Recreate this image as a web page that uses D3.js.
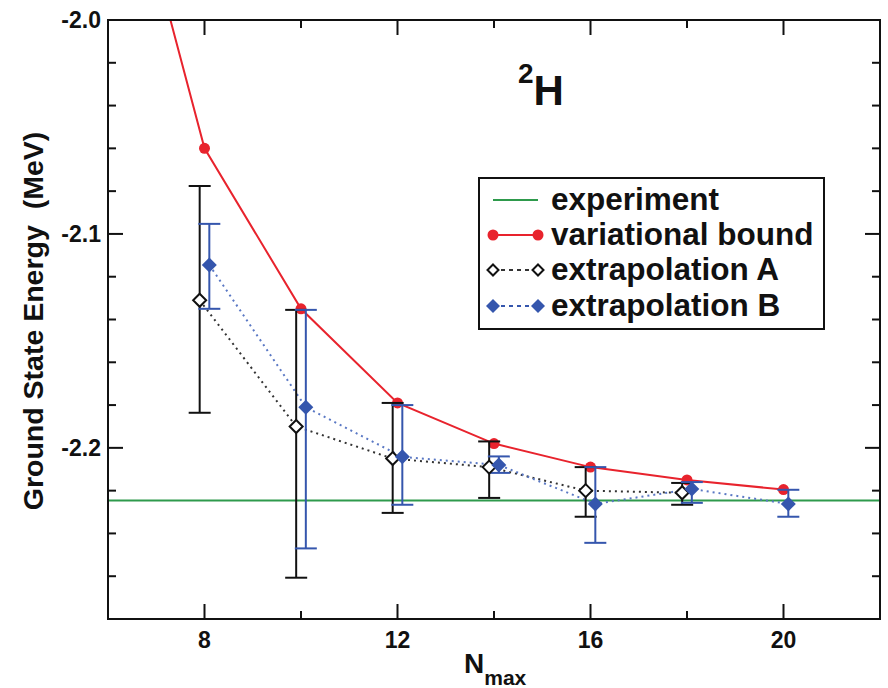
<!DOCTYPE html>
<html>
<head>
<meta charset="utf-8">
<script src="https://cdn.jsdelivr.net/npm/d3@7"></script>
<style>
  body { margin: 0; background: #fff; }
  text { font-family: "Liberation Sans", Arial, sans-serif; font-weight: bold; fill: #111; }
</style>
</head>
<body>
<div id="chart"></div>
<script>
// ---------------- data ----------------
var nmax_var = [6, 8, 10, 12, 14, 16, 18, 20];
var variational = [-1.89, -2.060, -2.135, -2.179, -2.198, -2.209, -2.215, -2.2195];

var nmax_A = [8, 10, 12, 14, 16, 18];
var extrapA = [-2.131, -2.190, -2.205, -2.209, -2.220, -2.221];
var extrapA_hi = [-2.0776, -2.1355, -2.179, -2.197, -2.209, -2.2164];
var extrapA_lo = [-2.1836, -2.2607, -2.2304, -2.2234, -2.2322, -2.2266];

var nmax_B = [8, 10, 12, 14, 16, 18, 20];
var extrapB = [-2.1145, -2.181, -2.2042, -2.208, -2.2262, -2.2192, -2.2262];
var extrapB_hi = [-2.0953, -2.1355, -2.180, -2.204, -2.209, -2.216, -2.2196];
var extrapB_lo = [-2.135, -2.247, -2.2266, -2.2117, -2.2444, -2.2257, -2.2322];

var experiment = -2.2246;

var x_ticks_major = [8, 12, 16, 20];
var x_ticks_minor = [10, 14, 18];
var y_ticks_major = [-2.0, -2.1, -2.2];
var y_ticks_minor = [-2.02, -2.04, -2.06, -2.08, -2.12, -2.14, -2.16, -2.18, -2.22, -2.24, -2.26];

var legend_labels = ["experiment", "variational bound", "extrapolation A", "extrapolation B"];

// ---------------- layout ----------------
var W = 888, H = 688;
var pL = 108, pR = 880, pT = 20, pB = 619;
var RED = "#e8232d", GREEN = "#2e9a4c", BLUE = "#3556ad", BLACK = "#111";
var OFF = 0.1;

var svg = d3.select("#chart").append("svg")
    .attr("width", W).attr("height", H);

var x = d3.scaleLinear().domain([6, 22]).range([pL, pR]);
var y = d3.scaleLinear().domain([-2.28, -2.0]).range([pB, pT]);

svg.append("defs").append("clipPath").attr("id", "clip")
  .append("rect")
    .attr("x", pL).attr("y", pT)
    .attr("width", pR - pL).attr("height", pB - pT);

var plot = svg.append("g").attr("clip-path", "url(#clip)");

// experiment line
plot.append("line")
    .attr("x1", pL).attr("x2", pR)
    .attr("y1", y(experiment)).attr("y2", y(experiment))
    .attr("stroke", GREEN).attr("stroke-width", 2);

// variational bound line
var line = d3.line().x(function(d) { return x(d[0]); }).y(function(d) { return y(d[1]); });
var varPts = nmax_var.map(function(n, i) { return [n, variational[i]]; });
plot.append("path")
    .attr("d", line(varPts))
    .attr("fill", "none").attr("stroke", RED).attr("stroke-width", 2);
plot.selectAll("circle.var").data(varPts).enter().append("circle")
    .attr("class", "var")
    .attr("cx", function(d) { return x(d[0]); })
    .attr("cy", function(d) { return y(d[1]); })
    .attr("r", 5.5).attr("fill", RED);

// dotted connecting lines
var ptsA = nmax_A.map(function(n, i) { return [n - OFF, extrapA[i]]; });
var ptsB = nmax_B.map(function(n, i) { return [n + OFF, extrapB[i]]; });
plot.append("path").attr("d", line(ptsA))
    .attr("fill", "none").attr("stroke", "#333").attr("stroke-width", 2)
    .attr("stroke-dasharray", "2,4");
plot.append("path").attr("d", line(ptsB))
    .attr("fill", "none").attr("stroke", "#5a78c4").attr("stroke-width", 2)
    .attr("stroke-dasharray", "2,4");

// error bars
function errorBars(ns, off, hi, lo, color) {
  var cap = 11;
  ns.forEach(function(n, i) {
    var cx = x(n + off);
    var g = plot.append("g").attr("stroke", color).attr("stroke-width", 2);
    g.append("line").attr("x1", cx).attr("x2", cx).attr("y1", y(hi[i])).attr("y2", y(lo[i]));
    g.append("line").attr("x1", cx - cap).attr("x2", cx + cap).attr("y1", y(hi[i])).attr("y2", y(hi[i]));
    g.append("line").attr("x1", cx - cap).attr("x2", cx + cap).attr("y1", y(lo[i])).attr("y2", y(lo[i]));
  });
}
errorBars(nmax_A, -OFF, extrapA_hi, extrapA_lo, BLACK);
errorBars(nmax_B, OFF, extrapB_hi, extrapB_lo, BLUE);

function diamond(s) {
  return "M0," + (-s) + "L" + s + ",0L0," + s + "L" + (-s) + ",0Z";
}
plot.selectAll("path.dA").data(ptsA).enter().append("path")
    .attr("class", "dA")
    .attr("d", diamond(6.5))
    .attr("transform", function(d) { return "translate(" + x(d[0]) + "," + y(d[1]) + ")"; })
    .attr("fill", "#fff").attr("stroke", BLACK).attr("stroke-width", 2);
plot.selectAll("path.dB").data(ptsB).enter().append("path")
    .attr("class", "dB")
    .attr("d", diamond(7.5))
    .attr("transform", function(d) { return "translate(" + x(d[0]) + "," + y(d[1]) + ")"; })
    .attr("fill", BLUE);

// ---------------- frame and ticks ----------------
svg.append("rect")
    .attr("x", pL).attr("y", pT)
    .attr("width", pR - pL).attr("height", pB - pT)
    .attr("fill", "none").attr("stroke", BLACK).attr("stroke-width", 2);

var ticks = svg.append("g").attr("stroke", BLACK).attr("stroke-width", 2);
x_ticks_major.forEach(function(t) {
  ticks.append("line").attr("x1", x(t)).attr("x2", x(t)).attr("y1", pB).attr("y2", pB - 15);
  ticks.append("line").attr("x1", x(t)).attr("x2", x(t)).attr("y1", pT).attr("y2", pT + 15);
});
x_ticks_minor.forEach(function(t) {
  ticks.append("line").attr("x1", x(t)).attr("x2", x(t)).attr("y1", pB).attr("y2", pB - 8);
  ticks.append("line").attr("x1", x(t)).attr("x2", x(t)).attr("y1", pT).attr("y2", pT + 8);
});
y_ticks_major.forEach(function(t) {
  ticks.append("line").attr("x1", pL).attr("x2", pL + 15).attr("y1", y(t)).attr("y2", y(t));
  ticks.append("line").attr("x1", pR).attr("x2", pR - 15).attr("y1", y(t)).attr("y2", y(t));
});
y_ticks_minor.forEach(function(t) {
  ticks.append("line").attr("x1", pL).attr("x2", pL + 8).attr("y1", y(t)).attr("y2", y(t));
  ticks.append("line").attr("x1", pR).attr("x2", pR - 8).attr("y1", y(t)).attr("y2", y(t));
});

svg.selectAll("text.xt").data(x_ticks_major).enter().append("text")
    .attr("class", "xt")
    .attr("x", function(d) { return x(d); })
    .attr("y", 648)
    .attr("text-anchor", "middle")
    .attr("font-size", 23)
    .text(function(d) { return d; });

svg.selectAll("text.yt").data(y_ticks_major).enter().append("text")
    .attr("class", "yt")
    .attr("x", 101)
    .attr("y", function(d) { return y(d) + 8; })
    .attr("text-anchor", "end")
    .attr("font-size", 23)
    .text(function(d) { return d.toFixed(1); });

// axis titles
svg.append("text")
    .attr("transform", "translate(43,321) rotate(-90)")
    .attr("text-anchor", "middle")
    .attr("font-size", 28.5)
    .attr("xml:space", "preserve")
    .text("Ground State Energy  (MeV)");

var xt = svg.append("text")
    .attr("x", 464).attr("y", 673)
    .attr("font-size", 28);
xt.append("tspan").text("N");
xt.append("tspan").attr("font-size", 21).attr("dy", 12).text("max");

// nucleus label
var lab = svg.append("text").attr("x", 518).attr("y", 105).attr("font-size", 42);
lab.append("tspan").attr("font-size", 28).attr("dy", -22).text("2");
lab.append("tspan").attr("dy", 22).text("H");

// ---------------- legend ----------------
var lg = svg.append("g");
lg.append("rect")
    .attr("x", 479).attr("y", 178).attr("width", 345).attr("height", 151)
    .attr("fill", "#fff").attr("stroke", BLACK).attr("stroke-width", 2);
var rowY = [200, 235, 270, 306];
var sx1 = 493, sx2 = 538;
lg.append("line").attr("x1", sx1).attr("x2", sx2).attr("y1", rowY[0]).attr("y2", rowY[0])
    .attr("stroke", GREEN).attr("stroke-width", 2);
lg.append("line").attr("x1", sx1).attr("x2", sx2).attr("y1", rowY[1]).attr("y2", rowY[1])
    .attr("stroke", RED).attr("stroke-width", 2);
[sx1, sx2].forEach(function(sx) {
  lg.append("circle").attr("cx", sx).attr("cy", rowY[1]).attr("r", 5.5).attr("fill", RED);
});
lg.append("line").attr("x1", sx1).attr("x2", sx2).attr("y1", rowY[2]).attr("y2", rowY[2])
    .attr("stroke", "#333").attr("stroke-width", 2).attr("stroke-dasharray", "4,4");
lg.append("line").attr("x1", sx1).attr("x2", sx2).attr("y1", rowY[3]).attr("y2", rowY[3])
    .attr("stroke", BLUE).attr("stroke-width", 2).attr("stroke-dasharray", "4,4");
[sx1, sx2].forEach(function(sx) {
  lg.append("path").attr("d", diamond(5.5))
    .attr("transform", "translate(" + sx + "," + rowY[2] + ")")
    .attr("fill", "#fff").attr("stroke", BLACK).attr("stroke-width", 2);
  lg.append("path").attr("d", diamond(7))
    .attr("transform", "translate(" + sx + "," + rowY[3] + ")")
    .attr("fill", BLUE);
});
lg.selectAll("text.lg").data(legend_labels).enter().append("text")
    .attr("class", "lg")
    .attr("x", 551)
    .attr("y", function(d, i) { return rowY[i] + 10; })
    .attr("font-size", 31.5)
    .text(function(d) { return d; });
</script>
</body>
</html>
